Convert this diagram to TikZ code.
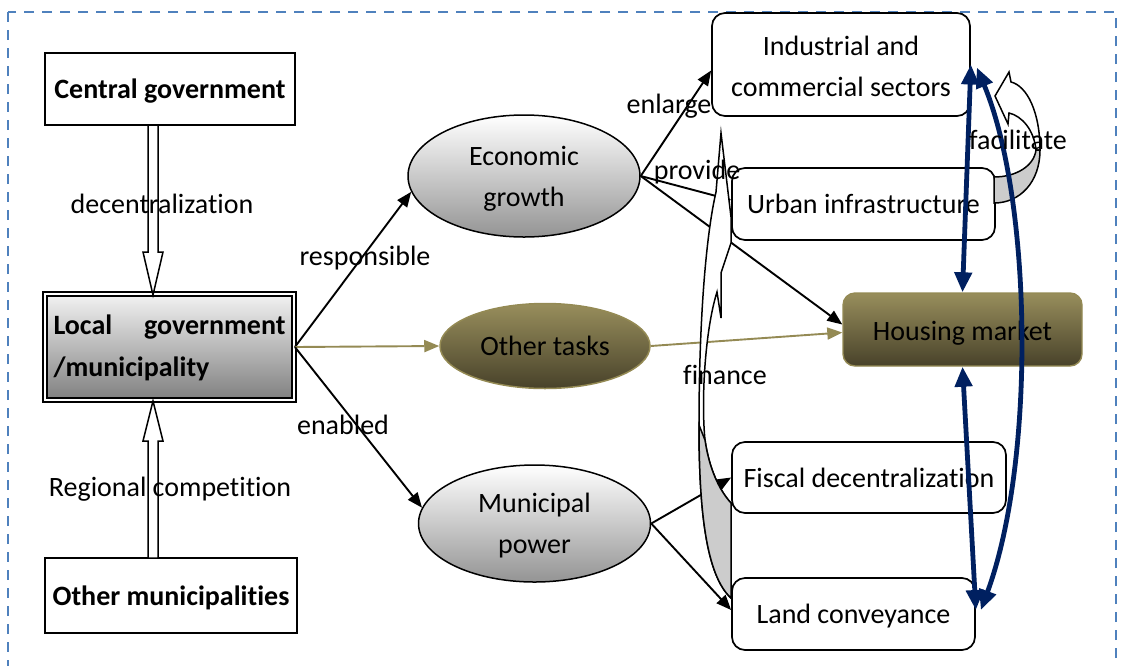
\documentclass[tikz,border=0pt]{standalone}
\usepackage{fontspec}
\setmainfont{Carlito}[Ligatures={CommonOff,ContextualOff}]
\usetikzlibrary{arrows.meta,shapes.geometric,calc}

\definecolor{frameblue}{RGB}{79,129,189}
\definecolor{navy}{RGB}{0,32,96}
\definecolor{olivetop}{RGB}{152,142,92}
\definecolor{olivebot}{RGB}{72,66,42}
\definecolor{oliveline}{RGB}{148,138,84}
\definecolor{backgray}{RGB}{204,204,204}

\begin{document}
\begin{tikzpicture}[x=1pt,y=-1pt,
  every node/.style={font=\fontsize{28}{41}\selectfont, inner sep=0pt, align=center},
  sqbox/.style={draw, line width=1.7pt, fill=white, font=\fontsize{28}{41}\selectfont\bfseries},
  rbox/.style={draw, line width=1.7pt, rounded corners=13pt, fill=white},
  grayell/.style={ellipse, draw, line width=1.5pt, top color=white, bottom color=black!42},
  oliveell/.style={ellipse, draw=oliveline, line width=1.5pt, top color=olivetop, bottom color=olivebot},
  link/.style={line width=1.9pt, -{Triangle[length=15pt,width=12pt]}},
  olink/.style={line width=1.9pt, draw=oliveline, -{Triangle[length=15pt,width=12pt,fill=oliveline]}},
  bluelink/.style={draw=navy, line width=4.8pt, {Triangle[length=20pt,width=17pt,fill=navy]}-{Triangle[length=20pt,width=17pt,fill=navy]}},
  hollowarrow/.style={draw, line width=1.5pt, fill=white},
  backface/.style={draw, line width=1.5pt, fill=backgray},
  frontface/.style={draw, line width=1.5pt, fill=white}
]
\useasboundingbox (0,0) rectangle (1121,665);

% dashed frame
\draw[frameblue, line width=2.4pt, dash pattern=on 10pt off 8pt] (8,12) rectangle (1116,690);

% left column
\node[sqbox, minimum width=250pt, minimum height=72pt] (cg) at (170,89) {\rule{0pt}{24pt}Central government};
\node[sqbox, minimum width=252pt, minimum height=75pt] (om) at (171,595.5) {\rule{0pt}{24pt}Other municipalities};
\node[draw, line width=1.8pt, double=white, double distance=2.4pt,
      top color=white!95!black, bottom color=black!50,
      minimum width=249pt, minimum height=106pt, text width=232pt, align=left,
      font=\fontsize{28}{42}\selectfont\bfseries] (lg) at (169.5,347)
      {\rule{0pt}{22pt}Local\hfill government\\/municipality};

% middle column
\node[grayell, minimum width=232pt, minimum height=122pt] (eco) at (524,176) {\rule{0pt}{24pt}Economic\\growth};
\node[oliveell, minimum width=210pt, minimum height=85pt] (ot) at (545,346) {Other tasks};
\node[grayell, minimum width=232pt, minimum height=117pt] (mp) at (534.5,523.5) {\rule{0pt}{24pt}Municipal\\power};

% right column
\node[rbox, minimum width=258pt, minimum height=103pt] (ind) at (841,64.5) {\rule{0pt}{24pt}Industrial and\\commercial sectors};
\node[rbox, minimum width=263pt, minimum height=72pt] (urb) at (863.5,204) {Urban infrastructure};
\node[draw=oliveline, line width=1.4pt, rounded corners=12pt, top color=olivetop, bottom color=olivebot,
      minimum width=239pt, minimum height=73pt] (hm) at (962.5,329.5) {\rule{0pt}{26pt}Housing market};
\node[rbox, minimum width=274pt, minimum height=71pt] (fis) at (869,477.5) {Fiscal decentralization};
\node[rbox, minimum width=243pt, minimum height=72pt] (land) at (853.5,614) {\rule{0pt}{24pt}Land conveyance};

% hollow block arrows on the left
\coordinate (dtop) at (153,125);
\coordinate (dtip) at (153,295);
\path[hollowarrow] ($(dtop)+(-5,0)$) -- ($(dtip)+(-5,-43)$) -- ($(dtip)+(-10,-43)$) -- (dtip)
  -- ($(dtip)+(10,-43)$) -- ($(dtip)+(5,-43)$) -- ($(dtop)+(5,0)$) -- cycle;
\coordinate (rbot) at (153,558);
\coordinate (rtip) at (153,401);
\path[hollowarrow] ($(rbot)+(-5,0)$) -- ($(rtip)+(-5,40)$) -- ($(rtip)+(-10,40)$) -- (rtip)
  -- ($(rtip)+(10,40)$) -- ($(rtip)+(5,40)$) -- ($(rbot)+(5,0)$) -- cycle;

% connectors from the local government
\draw[link] (lg.east) -- (eco.188);
\draw[olink] (lg.east) -- (ot.west);
\draw[link] (lg.east) -- (mp.172);

% connectors from economic growth, other tasks and municipal power
\draw[link] (eco.east) -- ($(ind.west)+(0,6)$);
\draw[link] (eco.east) -- ($(urb.west)+(0,-4)$);
\draw[link] (eco.east) -- ($(hm.west)+(0,-5)$);
\draw[olink] (ot.east) -- ($(hm.west)+(0,3)$);
\draw[link] (mp.east) -- (fis.west);
\draw[link] (mp.east) -- ($(land.west)+(0,-4)$);

% curved block arrow: finance
\path[frontface] (731,598) .. controls (706,575) and (699,510) .. (699,425)
  .. controls (699,320) and (706,235) .. (716,192) -- (721,133) -- (731,217) -- (731,243)
  -- (721,273) -- (721,318) -- (717,292) .. controls (705,330) and (701,400) .. (705,440)
  .. controls (709,468) and (719,490) .. (731,503) -- cycle;
\path[backface] (699,425) .. controls (699,510) and (706,575) .. (731,598) -- (731,503)
  .. controls (719,490) and (709,468) .. (705,440) -- cycle;

% circular block arrow: facilitate
\path[frontface] (1040,150) .. controls (1040,112) and (1027,86) .. (1011,82) -- (1009,72)
  -- (995,96) -- (1008,124) -- (1009,113) .. controls (1022,116) and (1034,130) .. (1036,150) -- cycle;
\path[backface] (1040,150) .. controls (1040,182) and (1020,203) .. (994,203) -- (994,177)
  .. controls (1016,177) and (1034,166) .. (1036,150) -- cycle;

% two-headed links around the housing market
\draw[bluelink] (hm.north) -- (ind.east);
\draw[bluelink] (hm.south) -- ($(land.east)+(0,-4)$);
\draw[bluelink] ($(ind.east)+(6,3)$) .. controls (1032,200) and (1036,460) .. ($(land.east)+(5,-4)$);

% labels
\node (l-dec) at (162,204) {decentralization};
\node (l-reg) at (170,489) {Regional competition};
\node (l-resp) at (365,258) {responsible};
\node (l-en) at (343,425) {enabled};
\node (l-enl) at (669,106) {enlarge};
\node (l-prov) at (697,172) {provide};
\node (l-fin) at (725,375) {finance};
\node (l-fac) at (1018,140) {facilitate};
\end{tikzpicture}
\end{document}
